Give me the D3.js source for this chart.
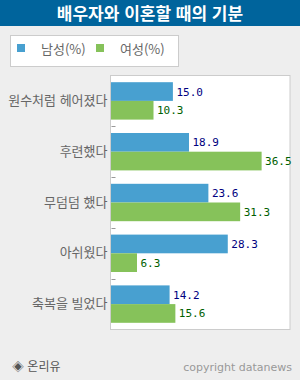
<!DOCTYPE html>
<html lang="ko">
<head>
  <meta charset="UTF-8">
  <title>배우자와 이혼할 때의 기분</title>
  <style>
    body { margin: 0; background: #eeeeee; }
    svg { display: block; }
  </style>
</head>
<body>
  <svg width="300" height="380"></svg>
  <script src="https://d3js.org/d3.v7.min.js"></script>
  <script>
    // データ
    const categories = ["원수처럼 헤어졌다", "후련했다", "무덤덤 했다", "아쉬웠다", "축복을 빌었다"];
    const seriesNames = ["남성(%)", "여성(%)"];
    const male = [15.0, 18.9, 23.6, 28.3, 14.2];
    const female = [10.3, 36.5, 31.3, 6.3, 15.6];

    const colors = ["#48a0d0", "#86c25a"];
    const labelColors = ["#000080", "#006000"];
    const kr = "'Noto Sans CJK KR', 'Noto Sans', sans-serif";

    const svg = d3.select("svg");

    // タイトルバー
    svg.append("rect").attr("x", 0).attr("y", 0).attr("width", 300).attr("height", 26).attr("fill", "#00649c");
    svg.append("text").attr("x", 150).attr("y", 19.5).attr("text-anchor", "middle")
      .attr("fill", "#fff").attr("font-family", kr).attr("font-weight", "bold").attr("font-size", 17)
      .text("배우자와 이혼할 때의 기분");

    // 凡例
    svg.append("rect").attr("x", 10.5).attr("y", 35.5).attr("width", 168).attr("height", 31)
      .attr("fill", "#fff").attr("stroke", "#cccccc");
    const legendX = [17, 96];
    seriesNames.forEach((name, i) => {
      svg.append("rect").attr("x", legendX[i]).attr("y", 44).attr("width", 8).attr("height", 8).attr("fill", colors[i]);
      svg.append("text").attr("x", legendX[i] + 24).attr("y", 54)
        .attr("fill", "#666").attr("font-family", kr).attr("font-size", 13).text(name);
    });

    // プロット領域
    const plot = { left: 110.5, top: 75.5, width: 179.5, height: 254 };
    svg.append("rect").attr("x", plot.left).attr("y", plot.top).attr("width", plot.width).attr("height", plot.height)
      .attr("fill", "#fff").attr("stroke", "#cccccc");

    const y = d3.scaleBand().domain(categories).range([plot.top, plot.top + plot.height]);
    const x = d3.scaleLinear().domain([0, 43.5]).range([plot.left, plot.left + plot.width]);
    const barH = 18.7;
    const offset = (y.bandwidth() - barH * 2) / 2;

    // 区切りの目盛り
    svg.append("g").selectAll("line")
      .data(categories.slice(1))
      .join("line")
      .attr("x1", plot.left + 1).attr("x2", plot.left + 5)
      .attr("y1", d => Math.round(y(d)) + 0.5).attr("y2", d => Math.round(y(d)) + 0.5)
      .attr("stroke", "#999");

    // カテゴリラベル
    const yAxis = svg.append("g")
      .attr("transform", `translate(${plot.left - 3},0)`)
      .call(d3.axisLeft(y).tickSize(0).tickPadding(0));
    yAxis.select(".domain").remove();
    yAxis.selectAll("text").attr("fill", "#666").attr("font-family", kr).attr("font-size", 13);

    // 棒
    [male, female].forEach((vals, s) => {
      const g = svg.append("g");
      g.selectAll("rect")
        .data(vals)
        .join("rect")
        .attr("x", plot.left + 0.5)
        .attr("y", (d, i) => y(categories[i]) + offset + s * barH)
        .attr("width", d => x(d) - plot.left)
        .attr("height", barH)
        .attr("fill", colors[s]);
      g.selectAll("text")
        .data(vals)
        .join("text")
        .attr("x", d => x(d) + 4)
        .attr("y", (d, i) => y(categories[i]) + offset + s * barH + barH / 2 + 4)
        .attr("fill", labelColors[s])
        .attr("font-family", "'DejaVu Sans Mono', monospace")
        .attr("font-size", 11)
        .text(d => d.toFixed(1));
    });

    // フッター
    svg.append("text").attr("x", 12).attr("y", 371).attr("fill", "#555")
      .attr("font-family", kr).attr("font-size", 12).text("◈ 온리유");
    svg.append("text").attr("x", 292).attr("y", 371).attr("text-anchor", "end").attr("fill", "#999")
      .attr("font-family", "'DejaVu Sans', sans-serif").attr("font-size", 11).text("copyright datanews");
  </script>
</body>
</html>
